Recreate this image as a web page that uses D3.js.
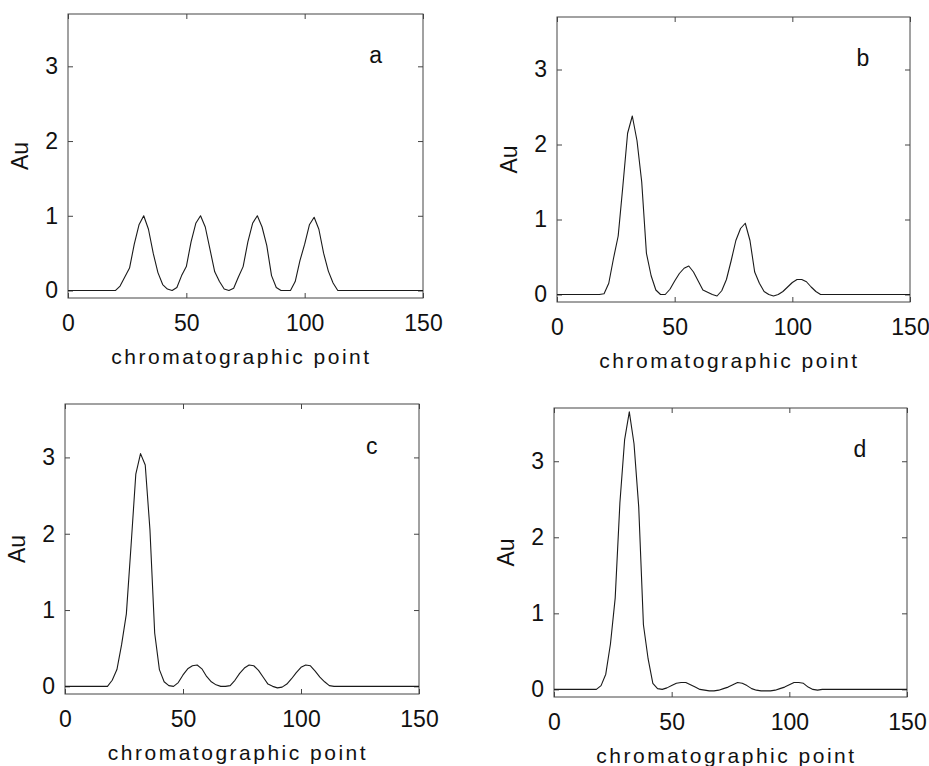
<!DOCTYPE html>
<html>
<head>
<meta charset="utf-8">
<script src="https://cdn.jsdelivr.net/npm/d3@7"></script>
<style>
  html, body { margin: 0; padding: 0; background: #fff; }
  svg { display: block; }
  .tick text { font-family: "Liberation Sans", Arial, sans-serif; font-size: 23px; fill: #111; }
  .tick line { stroke: #444; stroke-width: 1; }
</style>
</head>
<body>
<svg id="chart" width="929" height="766"></svg>
<script>
// Chromatographic sample points (flat baseline outside 18..114)
const points = [0, 18, 20, 22, 24, 26, 28, 30, 32, 34, 36, 38, 40, 42, 44, 46, 48, 50,
  52, 54, 56, 58, 60, 62, 64, 66, 68, 70, 72, 74, 76, 78, 80, 82, 84, 86, 88, 90,
  92, 94, 96, 98, 100, 102, 104, 106, 108, 110, 112, 114, 150];

// Absorbance (Au) per panel
const seriesA = [0, 0, 0.0, 0.06, 0.18, 0.3, 0.62, 0.88, 1.0, 0.82, 0.5, 0.24, 0.08, 0.02, 0.0, 0.04, 0.2, 0.32,
  0.65, 0.9, 1.0, 0.85, 0.55, 0.25, 0.12, 0.02, 0.0, 0.03, 0.18, 0.32, 0.65, 0.9, 1.0, 0.85, 0.6, 0.2, 0.04, 0.0,
  0.0, 0.0, 0.12, 0.4, 0.62, 0.88, 0.98, 0.82, 0.5, 0.26, 0.1, 0.0, 0];
const seriesB = [0, 0, 0.01, 0.15, 0.48, 0.78, 1.45, 2.15, 2.38, 2.05, 1.5, 0.55, 0.25, 0.06, 0.0, 0.0, 0.07, 0.18,
  0.28, 0.35, 0.38, 0.3, 0.18, 0.06, 0.03, 0.0, -0.02, 0.05, 0.2, 0.45, 0.72, 0.88, 0.95, 0.72, 0.3, 0.15, 0.04, 0.0,
  -0.02, 0.0, 0.04, 0.1, 0.16, 0.2, 0.2, 0.17, 0.1, 0.04, 0.0, 0, 0];
const seriesC = [0, 0, 0.08, 0.22, 0.55, 0.95, 1.85, 2.78, 3.05, 2.9, 2.05, 0.7, 0.22, 0.06, 0.01, 0.0, 0.05, 0.15,
  0.23, 0.27, 0.28, 0.23, 0.13, 0.06, 0.02, 0.0, 0.0, 0.01, 0.08, 0.17, 0.24, 0.28, 0.27, 0.21, 0.12, 0.03, 0.0, -0.02,
  -0.01, 0.03, 0.1, 0.18, 0.25, 0.28, 0.27, 0.2, 0.12, 0.06, 0.01, 0, 0];
const seriesD = [0, 0, 0.05, 0.2, 0.6, 1.2, 2.45, 3.28, 3.65, 3.23, 2.4, 0.85, 0.4, 0.08, 0.01, 0.0, 0.02, 0.05,
  0.08, 0.09, 0.09, 0.06, 0.03, 0.0, -0.01, -0.02, -0.02, -0.01, 0.01, 0.03, 0.06, 0.09, 0.08, 0.05, 0.01, -0.01, -0.02, -0.02,
  -0.02, -0.01, 0.01, 0.03, 0.06, 0.09, 0.09, 0.08, 0.03, 0.0, -0.01, 0, 0];

const panelLetters = ["a", "b", "c", "d"];
const xTicks = [0, 50, 100, 150];
const yTicks = [0, 1, 2, 3];
const xTitle = "chromatographic point";
const yTitle = "Au";

const panels = [
  { letter: panelLetters[0], values: seriesA, left: 68,  top: 14,  w: 355, h: 284 },
  { letter: panelLetters[1], values: seriesB, left: 557, top: 17,  w: 353, h: 285 },
  { letter: panelLetters[2], values: seriesC, left: 65,  top: 404, w: 354, h: 290 },
  { letter: panelLetters[3], values: seriesD, left: 554, top: 408, w: 353, h: 289 }
];

const svg = d3.select("#chart");
const font = '"Liberation Sans", Arial, sans-serif';

panels.forEach(p => {
  const g = svg.append("g").attr("transform", `translate(${p.left},${p.top})`);
  const x = d3.scaleLinear().domain([0, 150]).range([0, p.w]);
  const y = d3.scaleLinear().domain([-0.1, 3.7]).range([p.h, 0]);

  // ticks on all four sides, pointing inward
  const bottom = g.append("g").attr("transform", `translate(0,${p.h})`)
    .call(d3.axisBottom(x).tickValues(xTicks).tickFormat(d3.format("d")).tickSize(-5).tickPadding(17));
  const top = g.append("g")
    .call(d3.axisTop(x).tickValues(xTicks).tickFormat("").tickSize(-5));
  const left = g.append("g")
    .call(d3.axisLeft(y).tickValues(yTicks).tickFormat(d3.format("d")).tickSize(-5).tickPadding(10));
  const right = g.append("g").attr("transform", `translate(${p.w},0)`)
    .call(d3.axisRight(y).tickValues(yTicks).tickFormat("").tickSize(-5));
  [bottom, top, left, right].forEach(a => a.select(".domain").remove());

  // frame
  g.append("rect")
    .attr("x", 0).attr("y", 0).attr("width", p.w).attr("height", p.h)
    .attr("fill", "none").attr("stroke", "#444").attr("stroke-width", 1);

  // chromatogram trace
  const line = d3.line()
    .x((d, i) => x(points[i]))
    .y(d => y(d));
  g.append("path")
    .datum(p.values)
    .attr("d", line)
    .attr("fill", "none")
    .attr("stroke", "#1a1a1a")
    .attr("stroke-width", 1.1)
    .attr("stroke-linejoin", "round");

  // panel letter
  g.append("text")
    .attr("x", x(130)).attr("y", y(3.05))
    .attr("text-anchor", "middle")
    .attr("font-family", font).attr("font-size", 23).attr("fill", "#111")
    .text(p.letter);

  // axis titles
  g.append("text")
    .attr("x", p.w / 2 - 4).attr("y", p.h + 66)
    .attr("text-anchor", "middle")
    .attr("font-family", font).attr("font-size", 21)
    .attr("letter-spacing", "2.5px").attr("fill", "#111")
    .text(xTitle);

  g.append("text")
    .attr("transform", `translate(-40,${p.h / 2}) rotate(-90)`)
    .attr("text-anchor", "middle")
    .attr("font-family", font).attr("font-size", 23).attr("fill", "#111")
    .text(yTitle);
});
</script>
</body>
</html>
